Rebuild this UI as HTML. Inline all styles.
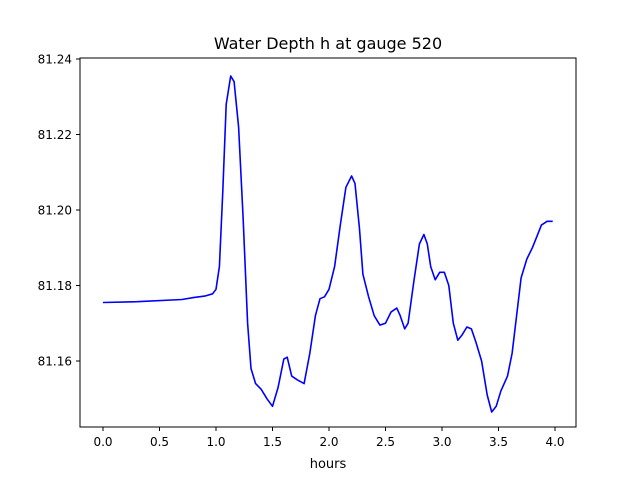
<!DOCTYPE html>
<html><head><meta charset="utf-8"><style>
body{margin:0;background:#fff;}
svg text{font-family:"DejaVu Sans","Liberation Sans",sans-serif;fill:#000;}
</style></head><body>
<svg width="640" height="480" xmlns="http://www.w3.org/2000/svg">
<rect width="640" height="480" fill="#fff"/>
<text x="328" y="49" text-anchor="middle" font-size="16">Water Depth h at gauge 520</text>
<g id="axes"></g>
<rect x="80" y="58" width="496" height="369" fill="none" stroke="#000" stroke-width="1"/>
<text x="328" y="468" text-anchor="middle" font-size="13">hours</text>
</svg>
<script>
const xTicks=[0,0.5,1,1.5,2,2.5,3,3.5,4];
const xTickLabels=["0.0","0.5","1.0","1.5","2.0","2.5","3.0","3.5","4.0"];
const yTicks=[81.16,81.18,81.20,81.22,81.24];
const yTickLabels=["81.16","81.18","81.20","81.22","81.24"];
const hours=[0,0.3,0.7,0.8,0.9,0.97,1.0,1.03,1.06,1.09,1.13,1.16,1.2,1.24,1.28,1.31,1.35,1.4,1.45,1.5,1.55,1.6,1.63,1.67,1.72,1.78,1.83,1.88,1.92,1.96,2.0,2.05,2.1,2.15,2.2,2.23,2.27,2.3,2.35,2.4,2.45,2.5,2.55,2.6,2.63,2.67,2.7,2.75,2.8,2.84,2.87,2.9,2.94,2.98,3.02,3.06,3.1,3.14,3.18,3.22,3.26,3.3,3.35,3.4,3.44,3.48,3.52,3.58,3.62,3.66,3.7,3.75,3.8,3.84,3.88,3.93,3.98];
const depth=[81.1755,81.1757,81.1763,81.1768,81.1772,81.1778,81.179,81.185,81.205,81.228,81.2355,81.234,81.222,81.198,81.17,81.158,81.154,81.1525,81.15,81.148,81.153,81.1605,81.161,81.156,81.155,81.154,81.162,81.172,81.1765,81.177,81.179,81.185,81.196,81.206,81.209,81.207,81.195,81.183,81.177,81.172,81.1695,81.170,81.173,81.174,81.172,81.1685,81.170,81.181,81.191,81.1935,81.191,81.185,81.1815,81.1835,81.1835,81.180,81.170,81.1655,81.167,81.169,81.1685,81.165,81.160,81.151,81.1465,81.148,81.152,81.156,81.162,81.172,81.182,81.187,81.190,81.193,81.196,81.197,81.197];
const NS="http://www.w3.org/2000/svg";
const xs=h=>103+h*113;
const ys=v=>59+(81.24-v)/0.02*75.5;
const g=document.getElementById('axes');
function mk(t,a){const e=document.createElementNS(NS,t);for(const k in a)e.setAttribute(k,a[k]);return e;}
xTicks.forEach((t,i)=>{
 const l=mk('line',{x1:xs(t),x2:xs(t),y1:427,y2:431,stroke:'#000'});
 
 
 g.appendChild(l);
 const tx=mk('text',{x:xs(t),y:446,'text-anchor':'middle','font-size':'12'});
 
 
 tx.textContent=xTickLabels[i];g.appendChild(tx);
});
yTicks.forEach((t,i)=>{
 const l=mk('line',{x1:76,x2:80,y1:ys(t),y2:ys(t),stroke:'#000'});
 
 
 g.appendChild(l);
 const tx=mk('text',{x:72,y:ys(t)+4.5,'text-anchor':'end','font-size':'12'});
 
 
 tx.textContent=yTickLabels[i];g.appendChild(tx);
});
const pts=hours.map((h,i)=>xs(h).toFixed(1)+','+ys(depth[i]).toFixed(1)).join(' ');
const pl=mk('polyline',{points:pts,fill:'none',stroke:'#0000ff','stroke-width':'1.6','stroke-linejoin':'round'});


g.appendChild(pl);
</script>
</body></html>
